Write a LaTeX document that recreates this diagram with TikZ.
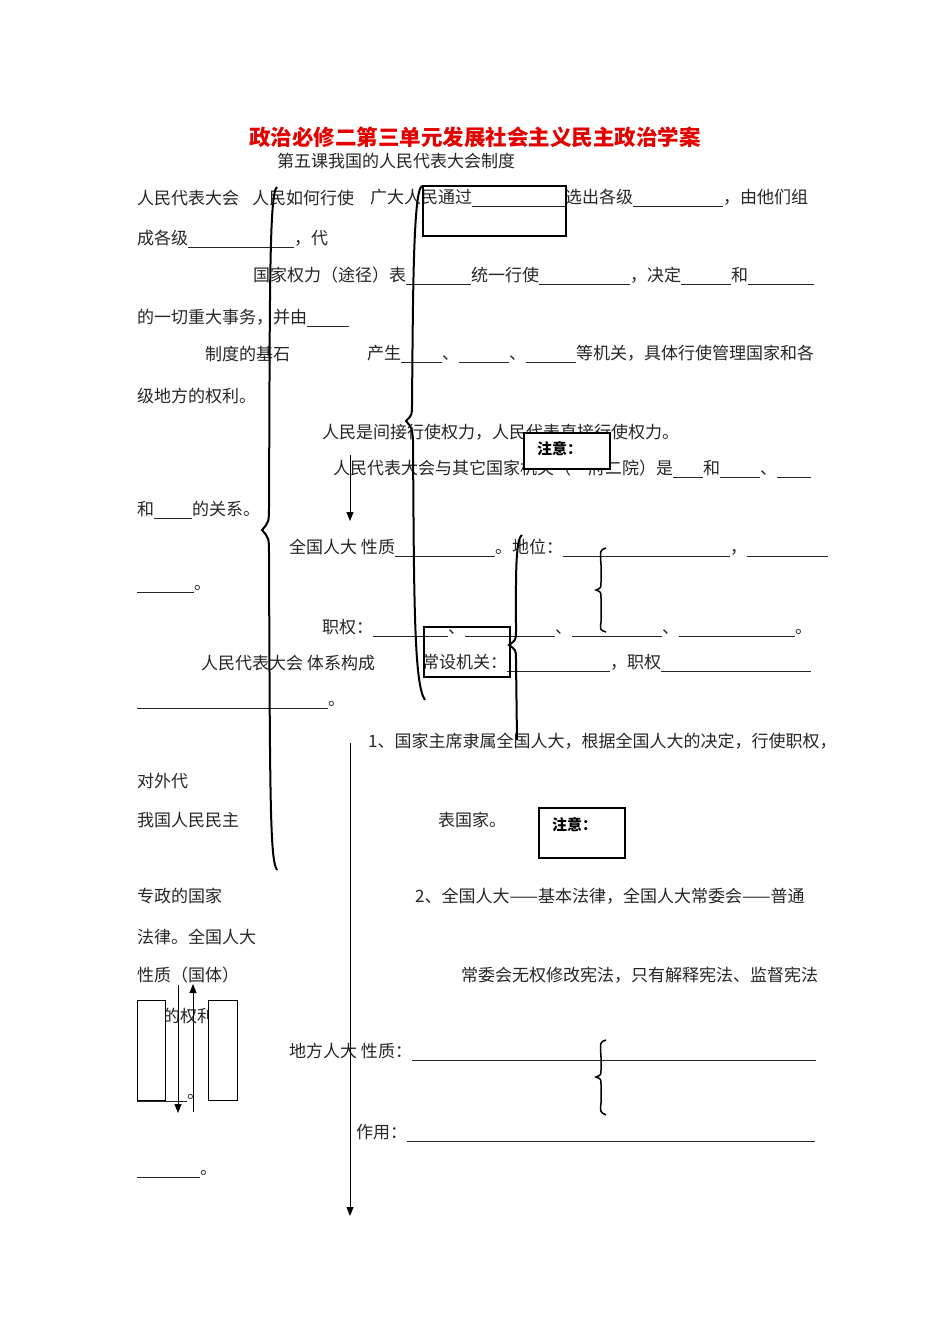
\documentclass[tikz,border=0pt]{standalone}
\usepackage{fontspec}
\setmainfont{Noto Sans CJK SC}
\usetikzlibrary{arrows.meta}
\newcommand\bl[1]{\rule[-3pt]{#1pt}{0.5pt}}
\tikzset{
  t/.style={anchor=west,inner sep=0pt,font=\fontsize{17}{19}\selectfont,text=black!85},
  frame/.style={draw=black,line width=2pt,fill=white},
  brace/.style={draw=black,line width=2pt},
  arr/.style={draw=black,line width=1pt,-{Triangle[length=9pt,width=7pt]}}
}
\begin{document}
\begin{tikzpicture}[x=1pt,y=-1pt]
\useasboundingbox (0,0) rectangle (950,1344);
\fill[white] (0,0) rectangle (950,1344);
% title
\node[inner sep=0pt,font=\fontsize{21.5}{24}\bfseries\selectfont,text=red!90!black] (title) at (475,137) {政治必修二第三单元发展社会主义民主政治学案};
\node[t] (sub) at (277,161) {第五课我国的人民代表大会制度};
% left column & body text
\node[t] (a1) at (137,198) {人民代表大会};
\node[t] (a2) at (252,198) {人民如何行使};
\node[t] (a3) at (370,198) {广大人民通过\bl{93}选出各级\bl{90}，由他们组};
\node[t] (b1) at (137,239) {成各级\bl{106}，代};
\node[t] (c1) at (253,276) {国家权力（途径）表\bl{65}统一行使\bl{91}，决定\bl{50}和\bl{66}};
\node[t] (d1) at (137,318) {的一切重大事务，并由\bl{42}};
\node[t] (e1) at (205,354) {制度的基石};
\node[t] (e2) at (367,354) {产生\bl{41}、\bl{50}、\bl{50}等机关，具体行使管理国家和各};
\node[t] (f1) at (137,396) {级地方的权利。};
\node[t] (g1) at (322,432) {人民是间接行使权力，人民代表直接行使权力。};
\node[t] (h1) at (333,469) {人民代表大会与其它国家机关（一府二院）是\bl{30}和\bl{40}、\bl{34}};
\node[t] (i1) at (137,510) {和\bl{38}的关系。};
\node[t] (j1) at (289,548) {全国人大 性质\bl{100}。地位：\bl{167}，\bl{81}};
\node[t] (k1) at (137,589) {\bl{57}。};
\node[t] (l1) at (322,628) {职权：\bl{75}、\bl{90}、\bl{90}、\bl{116}。};
\node[t] (m1) at (201,663) {人民代表大会 体系构成};
\node[t] (m2) at (422,663) {常设机关：\bl{103}，职权\bl{150}};
\node[t] (n1) at (137,705) {\bl{191}。};
\node[t] (o1) at (368,741) {1、国家主席隶属全国人大，根据全国人大的决定，行使职权，};
\node[t] (p1) at (137,781) {对外代};
\node[t] (q1) at (137,820) {我国人民民主};
\node[t] (q2) at (438,820) {表国家。};
\node[t] (r1) at (137,896) {专政的国家};
\node[t] (r2) at (415,896) {2、全国人大——基本法律，全国人大常委会——普通};
\node[t] (s1) at (137,937) {法律。全国人大};
\node[t] (u1) at (137,975) {性质（国体）};
\node[t] (u2) at (461,975) {常委会无权修改宪法，只有解释宪法、监督宪法};
\node[t] (v1) at (146,1016) {主的权利};
\node[t] (w1) at (289,1052) {地方人大 性质：\bl{404}};
\node[t] (x1) at (137,1098) {\bl{50}。};
\node[t] (y1) at (356,1133) {作用：\bl{408}};
\node[t] (z1) at (137,1174) {\bl{63}。};
% boxes
\node[draw=black,line width=2pt,minimum width=143pt,minimum height=50pt,inner sep=0pt] (box1) at (494.5,211) {};
\node[frame,minimum width=86pt,minimum height=36pt,inner sep=0pt,anchor=north west] (note1) at (523,432) {};
\node[anchor=west,inner sep=0pt,font=\fontsize{15}{16}\bfseries\selectfont] (note1t) at (537,449) {注意：};
\node[draw=black,line width=2pt,minimum width=86pt,minimum height=50pt,inner sep=0pt,anchor=north west] (box2) at (423,626) {};
\node[frame,minimum width=86pt,minimum height=50pt,inner sep=0pt,anchor=north west] (note2) at (538,807) {};
\node[anchor=west,inner sep=0pt,font=\fontsize{15}{16}\bfseries\selectfont] (note2t) at (552,825) {注意：};
\node[draw=black,line width=1.2pt,fill=white,minimum width=28pt,minimum height=100pt,inner sep=0pt,anchor=north west] (r1box) at (137,1000) {};
\node[draw=black,line width=1.2pt,fill=white,minimum width=29pt,minimum height=100pt,inner sep=0pt,anchor=north west] (r2box) at (208,1000) {};
% braces
\draw[brace] (277,187) .. controls (269,192) and (270,300) .. (269,505) .. controls (269,522) .. (262,530) .. controls (269,538) .. (269,555) .. controls (270,800) and (270,860) .. (277,870);
\draw[brace] (422,186) .. controls (413,190) and (413,300) .. (412,405) .. controls (412,415) .. (406,421) .. controls (412,428) .. (413,440) .. controls (414,600) and (414,685) .. (425,700);
\draw[brace] (522,535) .. controls (515,540) and (516,580) .. (516,630) .. controls (516,640) .. (509,645) .. controls (516,650) .. (516,660) .. controls (517,700) .. (517,740);
\draw[brace,line width=1.5pt] (606,548) .. controls (600,550) .. (601,565) -- (601,582) .. controls (601,588) .. (596,590) .. controls (601,592) .. (601,598) -- (601,622) .. controls (600,630) .. (606,632);
\draw[brace,line width=1.5pt] (606,1040) .. controls (600,1042) .. (601,1057) -- (601,1070) .. controls (601,1075) .. (596,1077) .. controls (601,1079) .. (601,1084) -- (601,1103) .. controls (600,1112) .. (606,1115);
% arrows
\coordinate (a1s) at (350,455); \coordinate (a1e) at (350,521);
\draw[arr] (a1s) -- (a1e);
\coordinate (a2s) at (350,743); \coordinate (a2e) at (350,1216);
\draw[arr] (a2s) -- (a2e);
\coordinate (a3s) at (178,985); \coordinate (a3e) at (178,1113);
\draw[arr] (a3s) -- (a3e);
\coordinate (a4s) at (193,1112); \coordinate (a4e) at (193,984);
\draw[arr] (a4s) -- (a4e);
\end{tikzpicture}
\end{document}
